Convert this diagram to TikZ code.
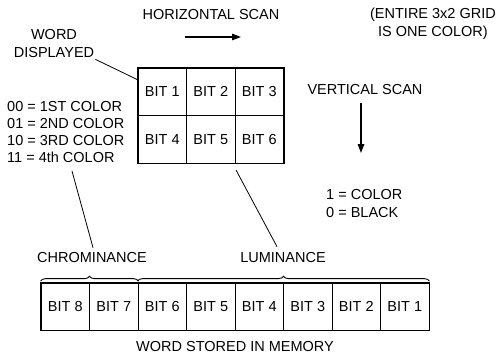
\documentclass[tikz,border=0pt]{standalone}
\usepackage{fontspec}
\setmainfont{Liberation Sans}
\usetikzlibrary{arrows.meta,positioning,calc,decorations.pathreplacing}

\begin{document}
\begin{tikzpicture}[
  x=1pt, y=-1pt,
  >={Triangle[length=9pt,width=6.5pt]},
  font=\fontsize{14.5}{18}\selectfont,
  gridcell/.style={draw, line width=0.7pt, minimum width=48.5pt, minimum height=47.5pt, inner sep=0pt},
  memcell/.style={draw, line width=0.7pt, minimum width=48.5pt, minimum height=47pt, inner sep=0pt},
  label/.style={inner sep=1pt, align=center},
  pointer/.style={draw, line width=0.8pt},
  bracket/.style={decorate, decoration={brace, amplitude=5pt}, line width=0.9pt}
]
\useasboundingbox (0,0) rectangle (498,356);

% displayed 3x2 grid
\node[gridcell] (g1) at (162.25,91.75) {BIT 1};
\node[gridcell] (g2) at (210.75,91.75) {BIT 2};
\node[gridcell] (g3) at (259.25,91.75) {BIT 3};
\node[gridcell] (g4) at (162.25,139.25) {BIT 4};
\node[gridcell] (g5) at (210.75,139.25) {BIT 5};
\node[gridcell] (g6) at (259.25,139.25) {BIT 6};
\draw[line width=1.5pt] (g1.north west) rectangle (g6.south east);

% word stored in memory
\foreach \k/\b in {1/8,2/7,3/6,4/5,5/4,6/3,7/2,8/1}
  \node[memcell] (m\k) at (41+48.5*\k-24.25,306.5) {BIT \b};
\draw[line width=1.5pt] (m1.north west) rectangle (m8.south east);

% texts
\node[label] (hscan) at (211,15) {HORIZONTAL SCAN};
\node[label] (entire) at (433,24) {(ENTIRE 3x2 GRID\\IS ONE COLOR)};
\node[label] (vscan) at (365,90) {VERTICAL SCAN};
\node[label] (word) at (54,44) {WORD\\DISPLAYED};
\node[label, align=left, anchor=west, font=\fontsize{14.5}{17.3}\selectfont] (codes) at (6,132)
  {00 = 1ST COLOR\\01 = 2ND COLOR\\10 = 3RD COLOR\\11 = 4th COLOR};
\node[label, align=left, anchor=west] (lumcodes) at (325,204) {1 = COLOR\\0 = BLACK};
\node[label] (chroma) at (92,258) {CHROMINANCE};
\node[label] (luma) at (283,258) {LUMINANCE};
\node[label] (stored) at (235,347) {WORD STORED IN MEMORY};

% scan arrows
\coordinate (h0) at (185,37);
\coordinate (h1) at (241,37);
\draw[->, line width=1.3pt] (h0) -- (h1);
\coordinate (v0) at (361,103);
\coordinate (v1) at (361,153);
\draw[->, line width=1.3pt] (v0) -- (v1);

% pointers
\draw[pointer] (word.south east) -- (g1.154);
\coordinate (c0) at (72,171);
\draw[pointer] (c0) -- ($(chroma.north)+(1,-4)$);
\coordinate (l0) at (236,170);
\draw[pointer] (l0) -- ($(luma.north)+(-6,-5)$);

% braces
\draw[bracket] ($(m1.north west)+(0,-1.5)$) -- ($(m2.north east)+(0,-1.5)$);
\draw[bracket] ($(m3.north west)+(0,-1.5)$) -- ($(m8.north east)+(0,-1.5)$);
\end{tikzpicture}
\end{document}
